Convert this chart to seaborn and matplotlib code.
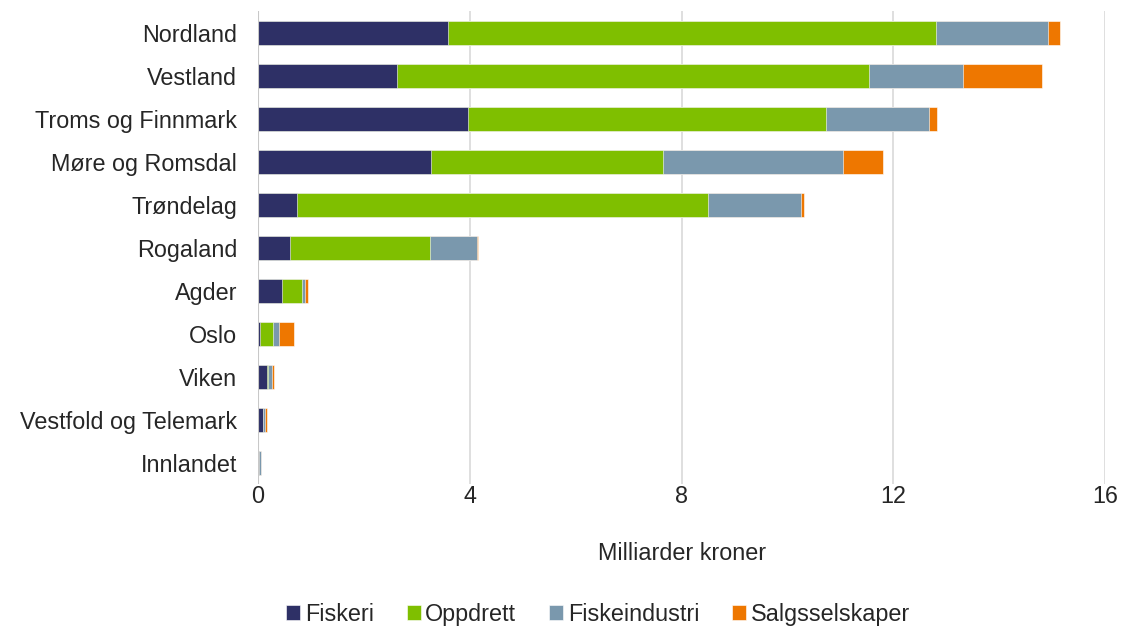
import pandas as pd
import numpy as np
import matplotlib.pyplot as plt
import seaborn as sns

# --- data (milliarder kroner) ---
regions = ['Nordland', 'Vestland', 'Troms og Finnmark', 'Møre og Romsdal', 'Trøndelag',
           'Rogaland', 'Agder', 'Oslo', 'Viken', 'Vestfold og Telemark', 'Innlandet']
fiskeri = [3.58, 2.62, 3.96, 3.26, 0.74, 0.60, 0.45, 0.04, 0.17, 0.10, 0.01]
oppdrett = [9.23, 8.91, 6.76, 4.38, 7.75, 2.65, 0.38, 0.25, 0.01, 0.00, 0.00]
fiskeindustri = [2.11, 1.79, 1.96, 3.40, 1.76, 0.88, 0.06, 0.11, 0.08, 0.03, 0.04]
salgsselskaper = [0.23, 1.49, 0.15, 0.77, 0.07, 0.02, 0.05, 0.27, 0.05, 0.03, 0.01]

series = ['Fiskeri', 'Oppdrett', 'Fiskeindustri', 'Salgsselskaper']
colors = ['#2E3066', '#7FBF00', '#7A98AD', '#EE7700']

df = pd.DataFrame({'Region': regions, 'Fiskeri': fiskeri, 'Oppdrett': oppdrett,
                   'Fiskeindustri': fiskeindustri, 'Salgsselskaper': salgsselskaper})
cum = df[series].cumsum(axis=1)
cum['Region'] = df['Region']

sns.set_style('white')
plt.rcParams['font.family'] = ['Liberation Sans', 'DejaVu Sans']

fig, ax = plt.subplots(figsize=(11.22, 6.27), dpi=100)
fig.subplots_adjust(left=0.23, right=0.985, top=0.982, bottom=0.228)

# stacked bars: draw cumulative totals from the outermost inward
for name, col in reversed(list(zip(series, colors))):
    sns.barplot(data=cum, y='Region', x=name, order=regions, color=col,
                saturation=1, width=0.56, orient='h', ax=ax, label=name,
                edgecolor='white', linewidth=0.4, zorder=3)

fs = 16.8
ax.set_xlim(0, 16)
ax.set_xticks([0, 4, 8, 12, 16])
ax.grid(axis='x', color='#D9D9D9', linewidth=1.2, zorder=0)
ax.axvline(0, color='#C8C8C8', linewidth=1.5, zorder=4)
sns.despine(ax=ax, left=True, bottom=True, top=True, right=True)
ax.tick_params(axis='y', length=0, labelsize=fs, pad=15)
ax.tick_params(axis='x', length=0, labelsize=fs, pad=1)
ax.set_ylabel('')
ax.set_xlabel('Milliarder kroner', fontsize=fs, labelpad=24)

handles, labels = ax.get_legend_handles_labels()
order = [labels.index(s) for s in series]
ax.legend([handles[i] for i in order], [labels[i] for i in order],
          loc='lower center', bbox_to_anchor=(0.533, -0.032), bbox_transform=fig.transFigure,
          ncol=4, frameon=False, fontsize=fs, handlelength=0.6, handleheight=0.6,
          handletextpad=0.2, columnspacing=1.4)

plt.savefig('out.png', dpi=100)
